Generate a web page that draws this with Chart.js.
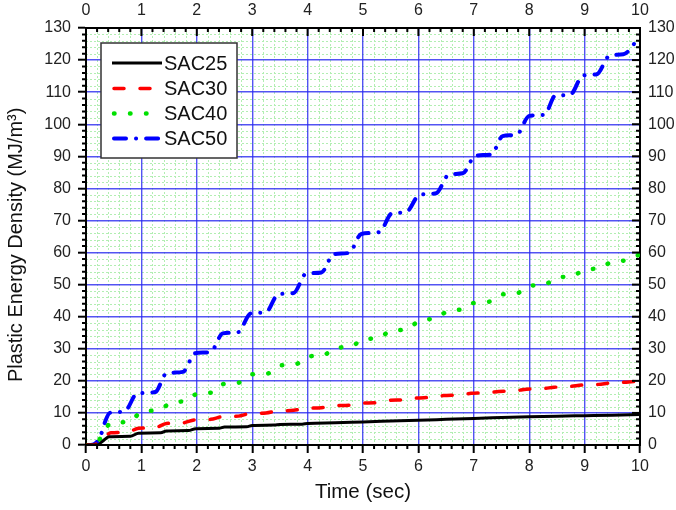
<!DOCTYPE html>
<html>
<head>
<meta charset="utf-8">
<script src="https://cdn.jsdelivr.net/npm/chart.js@4.4.1/dist/chart.umd.min.js"></script>
<style>
html,body{margin:0;padding:0;background:#fff;}
#c{display:block;}
</style>
</head>
<body>
<canvas id="c" width="676" height="510"></canvas>
<script>
// ---- data ----
const seriesNames = ['SAC25', 'SAC30', 'SAC40', 'SAC50'];

const tSAC25 = [0, 0.2, 0.3, 0.42, 0.8, 0.95, 1.35, 1.45, 1.85, 1.98, 2.4, 2.5, 2.9, 3.0, 3.4, 3.5, 3.9, 4.0, 4.5, 5.0, 5.5, 6.0, 6.5, 7.0, 7.5, 8.0, 8.5, 9.0, 9.5, 10];
const vSAC25 = [0, 0, 1.2, 2.6, 2.7, 3.7, 3.8, 4.4, 4.5, 5.1, 5.2, 5.6, 5.7, 6.1, 6.2, 6.4, 6.5, 6.7, 6.9, 7.2, 7.45, 7.7, 8.0, 8.3, 8.55, 8.8, 9.0, 9.15, 9.3, 9.5];

const tSAC30 = [0, 0.15, 0.3, 0.45, 0.75, 0.95, 1.25, 1.45, 1.75, 1.95, 2.25, 2.45, 2.75, 2.95, 3.25, 3.45, 3.75, 3.95, 4.25, 4.45, 4.75, 4.95, 5.25, 5.45, 5.75, 5.95, 6.25, 6.45, 6.75, 6.95, 7.25, 7.45, 7.75, 7.95, 8.25, 8.45, 8.75, 8.95, 9.25, 9.45, 9.75, 10];
const vSAC30 = [0, 0.1, 2.0, 3.8, 4.0, 5.2, 5.4, 6.7, 6.9, 7.8, 8.0, 8.8, 9.0, 9.8, 10.0, 10.6, 10.8, 11.4, 11.6, 12.2, 12.4, 13.0, 13.2, 13.9, 14.1, 14.6, 14.9, 15.4, 15.6, 16.1, 16.3, 16.7, 16.9, 17.4, 17.6, 18.0, 18.3, 18.7, 18.9, 19.3, 19.6, 19.9];

const tSAC40 = [0, 0.15, 0.28, 0.45, 0.78, 1.0, 1.32, 1.55, 1.8, 2.02, 2.3, 2.48, 2.75, 2.98, 3.28, 3.5, 3.78, 4.0, 4.28, 4.5, 4.78, 5.0, 5.28, 5.5, 5.78, 6.05, 6.3, 6.55, 6.8, 7.0, 7.28, 7.5, 7.78, 8.0, 8.28, 8.5, 8.78, 9.0, 9.28, 9.5, 9.78, 10];
const vSAC40 = [0, 0.1, 2.6, 6.9, 7.2, 10.3, 10.9, 13.3, 13.7, 16.1, 16.4, 19.0, 19.4, 22.0, 22.3, 24.8, 25.1, 27.6, 27.9, 30.3, 30.6, 33.0, 33.3, 35.6, 36.0, 39.0, 39.4, 41.9, 42.3, 44.3, 44.7, 46.9, 47.3, 49.6, 50.0, 52.2, 52.6, 54.7, 55.1, 57.2, 57.6, 59.5];

const tSAC50 = [0, 0.12, 0.2, 0.28, 0.35, 0.43, 0.7, 0.92, 1.25, 1.45, 1.75, 1.97, 2.25, 2.47, 2.75, 2.97, 3.25, 3.47, 3.75, 3.97, 4.25, 4.47, 4.75, 4.97, 5.3, 5.52, 5.78, 6.02, 6.32, 6.55, 6.8, 7.03, 7.32, 7.52, 7.78, 8.0, 8.28, 8.47, 8.74, 8.97, 9.22, 9.45, 9.7, 10];
const vSAC50 = [0, 0.1, 1.0, 3.7, 7.5, 10.0, 10.5, 16.0, 16.5, 22.3, 22.8, 28.6, 29.0, 34.8, 35.2, 41.0, 41.4, 47.0, 47.4, 53.4, 53.8, 59.5, 59.9, 65.8, 66.4, 72.2, 72.6, 78.0, 78.5, 84.3, 84.7, 90.2, 90.6, 96.3, 96.8, 102.6, 103.0, 108.9, 109.2, 115.2, 115.6, 121.4, 121.8, 127.5];

const xTickLabels = ['0','1','2','3','4','5','6','7','8','9','10'];
const yTickLabels = ['0','10','20','30','40','50','60','70','80','90','100','110','120','130'];

// ---- build ----
const toXY = (ts, vs) => ts.map((t, i) => ({x: t, y: vs[i]}));
const FONT = "'Liberation Sans', Arial, sans-serif";

const styles = [
  {color: '#000000', width: 3, dash: [], cap: 'butt'},
  {color: '#ff0000', width: 3.5, dash: [10, 16], cap: 'round'},
  {color: '#00e000', width: 4.5, dash: [0.5, 15.5], cap: 'round'},
  {color: '#0000ff', width: 4, dash: [12, 10, 0.1, 10], cap: 'round'}
];
const seriesData = [toXY(tSAC25, vSAC25), toXY(tSAC30, vSAC30), toXY(tSAC40, vSAC40), toXY(tSAC50, vSAC50)];

const datasets = seriesNames.map((n, i) => ({
  label: n,
  data: seriesData[i],
  borderColor: styles[i].color,
  backgroundColor: styles[i].color,
  borderWidth: styles[i].width,
  borderDash: styles[i].dash,
  borderCapStyle: styles[i].cap,
  borderJoinStyle: 'round',
  pointRadius: 0,
  fill: false,
  cubicInterpolationMode: 'monotone',
  xAxisID: 'x', yAxisID: 'y'
}));

const MAJOR_BLUE = 'rgba(40,40,240,0.8)';

const minorGrid = {
  id: 'minorGrid',
  beforeDraw(chart) {
    const {ctx, chartArea: a, scales: {x, y}} = chart;
    ctx.save();
    ctx.fillStyle = '#fff';
    ctx.fillRect(0, 0, chart.width, chart.height);
    ctx.strokeStyle = '#b2eeb2';
    ctx.lineWidth = 1;
    ctx.setLineDash([2, 2]);
    for (let k = 1; k < 50; k++) {
      if (k % 5 === 0) continue;
      const px = Math.round(x.getPixelForValue(k * 0.2)) + 0.5;
      ctx.beginPath(); ctx.moveTo(px, a.top); ctx.lineTo(px, a.bottom); ctx.stroke();
    }
    for (let k = 1; k < 65; k++) {
      if (k % 5 === 0) continue;
      const py = Math.round(y.getPixelForValue(k * 2)) + 0.5;
      ctx.beginPath(); ctx.moveTo(a.left, py); ctx.lineTo(a.right, py); ctx.stroke();
    }
    ctx.restore();
  }
};

const tickMarks = {
  id: 'tickMarks',
  afterDraw(chart) {
    const {ctx, chartArea: a, scales: {x, y}} = chart;
    ctx.save();
    ctx.strokeStyle = '#000';
    ctx.lineWidth = 2;
    for (let k = 0; k <= 50; k++) {
      const px = x.getPixelForValue(k * 0.2);
      const major = k % 5 === 0;
      ctx.beginPath();
      ctx.moveTo(px, a.top); ctx.lineTo(px, a.top + (major ? 8 : 4));
      if (!major) { ctx.moveTo(px, a.bottom); ctx.lineTo(px, a.bottom + 4); }
      ctx.stroke();
    }
    for (let k = 0; k <= 65; k++) {
      const py = y.getPixelForValue(k * 2);
      const major = k % 5 === 0;
      ctx.beginPath();
      ctx.moveTo(a.right, py); ctx.lineTo(a.right - (major ? 8 : 4), py);
      if (!major) { ctx.moveTo(a.left, py); ctx.lineTo(a.left - 4, py); }
      ctx.stroke();
    }
    ctx.restore();
  }
};

const boxLegend = {
  id: 'boxLegend',
  afterDatasetsDraw(chart) {
    const ctx = chart.ctx;
    const bx = 101, by = 43, bw = 136, bh = 115;
    ctx.save();
    ctx.fillStyle = '#fff';
    ctx.fillRect(bx, by, bw, bh);
    ctx.strokeStyle = '#333';
    ctx.lineWidth = 1.5;
    ctx.strokeRect(bx, by, bw, bh);
    const rows = [63, 88.5, 113.5, 138.5];
    chart.data.datasets.forEach((ds, i) => {
      ctx.strokeStyle = ds.borderColor;
      ctx.lineWidth = ds.borderWidth;
      ctx.lineCap = ds.borderCapStyle;
      ctx.setLineDash(ds.borderDash);
      ctx.beginPath();
      ctx.moveTo(112 + (ds.borderCapStyle === 'round' ? 2 : 0), rows[i]);
      ctx.lineTo(162, rows[i]);
      ctx.stroke();
      ctx.setLineDash([]);
      ctx.fillStyle = '#111';
      ctx.font = '20px ' + FONT;
      ctx.textBaseline = 'middle';
      ctx.textAlign = 'left';
      ctx.fillText(ds.label, 164, rows[i] + 1);
    });
    ctx.restore();
  }
};

const tickFont = {family: FONT, size: 16};

new Chart(document.getElementById('c'), {
  type: 'line',
  data: {datasets},
  plugins: [minorGrid, tickMarks, boxLegend],
  options: {
    responsive: false,
    animation: false,
    events: [],
    layout: {padding: 0},
    plugins: {legend: {display: false}, tooltip: {enabled: false}},
    scales: {
      x: {
        type: 'linear', position: 'bottom', min: 0, max: 10,
        ticks: {stepSize: 1, font: tickFont, color: '#222', padding: 4, maxRotation: 0,
          callback: (v) => xTickLabels[Math.round(v)] ?? ''},
        grid: {color: MAJOR_BLUE, lineWidth: 1.4, tickLength: 8, tickColor: '#000', tickWidth: 2},
        border: {color: '#000', width: 2},
        title: {display: true, text: 'Time (sec)', font: {family: FONT, size: 20.5}, color: '#111', padding: {top: 2, bottom: 5}},
        afterFit: (s) => { s.height = 65; }
      },
      x2: {
        type: 'linear', position: 'top', min: 0, max: 10,
        ticks: {stepSize: 1, font: tickFont, color: '#222', padding: 8, maxRotation: 0,
          callback: (v) => xTickLabels[Math.round(v)] ?? ''},
        grid: {display: false, drawTicks: false},
        border: {color: '#000', width: 2},
        afterFit: (s) => { s.height = 28; }
      },
      y: {
        type: 'linear', position: 'left', min: 0, max: 130,
        ticks: {stepSize: 10, font: tickFont, color: '#222', padding: 7,
          callback: (v) => yTickLabels[Math.round(v / 10)] ?? ''},
        grid: {color: MAJOR_BLUE, lineWidth: 1.4, tickLength: 8, tickColor: '#000', tickWidth: 2},
        border: {color: '#000', width: 2},
        title: {display: true, text: 'Plastic Energy Density (MJ/m³)   ', font: {family: FONT, size: 20}, color: '#111', padding: {top: 4, bottom: 2}},
        afterFit: (s) => { s.width = 86; }
      },
      y2: {
        type: 'linear', position: 'right', min: 0, max: 130,
        ticks: {stepSize: 10, font: tickFont, color: '#222', padding: 8,
          callback: (v) => yTickLabels[Math.round(v / 10)] ?? ''},
        grid: {display: false, drawTicks: false},
        border: {color: '#000', width: 2},
        afterFit: (s) => { s.width = 36; }
      }
    }
  }
});
</script>
</body>
</html>
